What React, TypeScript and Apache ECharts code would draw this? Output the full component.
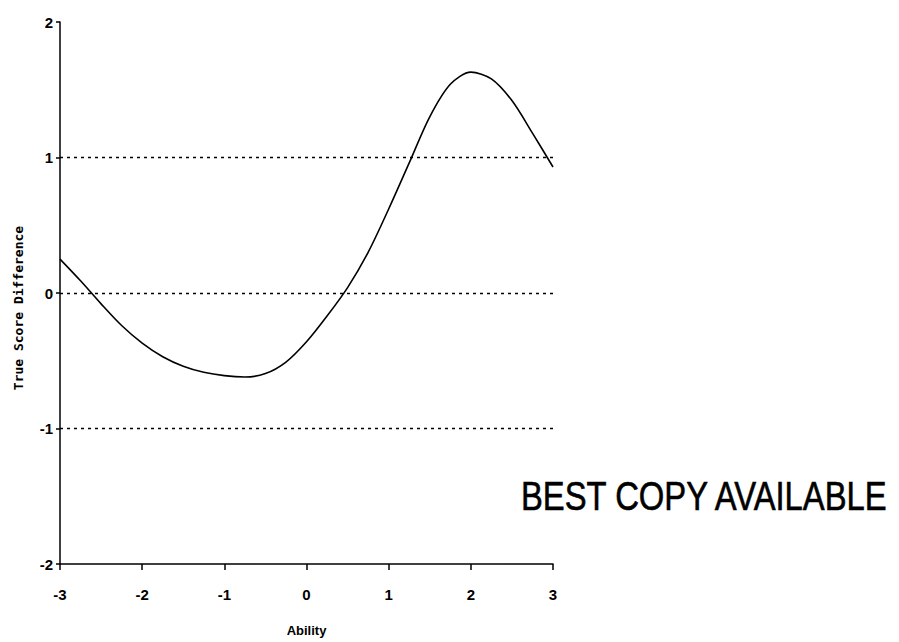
import React, { useEffect, useRef } from "react";
import * as echarts from "echarts";

const abilityX = [-3, -2.75, -2.5, -2.25, -2, -1.75, -1.5, -1.25, -1, -0.75, -0.5, -0.25, 0, 0.25, 0.5, 0.75, 1, 1.25, 1.5, 1.75, 2, 2.25, 2.5, 2.75, 3];
const scoreDiff = [0.25, 0.09, -0.08, -0.24, -0.37, -0.47, -0.54, -0.585, -0.61, -0.62, -0.595, -0.51, -0.36, -0.17, 0.04, 0.3, 0.62, 0.96, 1.3, 1.54, 1.63, 1.58, 1.42, 1.18, 0.93];
const refLevels = [1, 0, -1];
const xTitle = "Ability";
const yTitle = "True Score Difference";
const stampText = "BEST COPY AVAILABLE";

const labelFont = '"Liberation Sans Narrow", "Liberation Sans", Arial, sans-serif';

export default function App() {
  const ref = useRef<HTMLDivElement>(null);
  useEffect(() => {
    if (!ref.current) return;
    const chart = echarts.init(ref.current, null, { renderer: "svg" });
    chart.setOption({
      animation: false,
      backgroundColor: "#ffffff",
      grid: { left: 60, right: 346, top: 22, bottom: 77 },
      xAxis: {
        type: "value",
        min: -3,
        max: 3,
        interval: 1,
        name: xTitle,
        nameLocation: "middle",
        nameGap: 60,
        nameTextStyle: { color: "#000", fontSize: 13, fontWeight: "bold", fontFamily: labelFont },
        axisLine: { show: true, onZero: false, lineStyle: { color: "#000", width: 1.5 } },
        axisTick: { show: true, inside: false, length: 6, lineStyle: { color: "#000", width: 1.5 } },
        axisLabel: { color: "#000", fontSize: 15, fontWeight: "bold", fontFamily: labelFont, margin: 23 },
        splitLine: { show: false },
      },
      yAxis: {
        type: "value",
        min: -2,
        max: 2,
        interval: 1,
        axisLine: { show: true, onZero: false, lineStyle: { color: "#000", width: 1.5 } },
        axisTick: { show: true, inside: false, length: 4, lineStyle: { color: "#000", width: 1.5 } },
        axisLabel: { color: "#000", fontSize: 15, fontWeight: "bold", fontFamily: labelFont, margin: 7 },
        splitLine: { show: false },
      },
      series: [
        {
          type: "line",
          data: abilityX.map((x, i) => [x, scoreDiff[i]]),
          smooth: 0.3,
          showSymbol: false,
          symbol: "none",
          lineStyle: { color: "#000", width: 1.6 },
          markLine: {
            silent: true,
            symbol: "none",
            label: { show: false },
            lineStyle: { color: "#000", type: [3, 4], width: 1.3 },
            data: refLevels.map((v) => ({ yAxis: v })),
          },
        },
      ],
      graphic: [
        {
          type: "text",
          x: 18,
          y: 308,
          rotation: Math.PI / 2,
          style: {
            text: yTitle,
            fontSize: 13,
            fontWeight: "bold",
            fontFamily: '"DejaVu Sans Mono", monospace',
            fill: "#000",
            align: "center",
            verticalAlign: "middle",
          },
        },
        {
          type: "text",
          x: 521,
          y: 475,
          scaleX: 0.8,
          style: {
            text: stampText,
            fontSize: 41,
            fontFamily: '"Liberation Sans", Arial, sans-serif',
            fill: "#000",
            stroke: "#000",
            lineWidth: 0.6,
            verticalAlign: "top",
          },
        },
      ],
    });
    return () => chart.dispose();
  }, []);
  return <div ref={ref} style={{ width: 899, height: 642, position: "absolute", left: 0, top: 0 }} />;
}
